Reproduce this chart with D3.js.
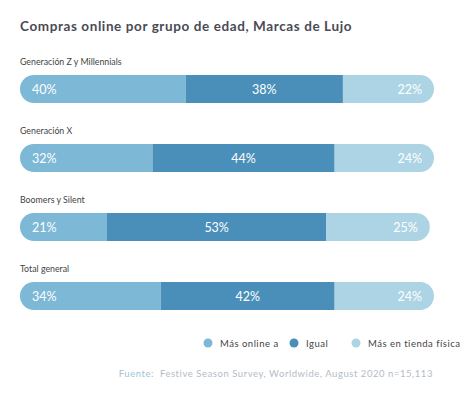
<!DOCTYPE html>
<html>
<head>
<meta charset="utf-8">
<script src="https://cdn.jsdelivr.net/npm/d3@7"></script>
<style>
  body { margin: 0; background: #fff; }
  text { font-family: Lato, "Open Sans", sans-serif; }
</style>
</head>
<body>
<svg id="chart" width="473" height="398"></svg>
<script>
// chart data
const groups = ["Generación Z y Millennials", "Generación X", "Boomers y Silent", "Total general"];
const seriesNames = ["Más online a", "Igual", "Más en tienda física"];
const masOnline = [40, 32, 21, 34];
const igual = [38, 44, 53, 42];
const masTienda = [22, 24, 25, 24];
const colors = ["#7db8d6", "#4a8fba", "#acd4e4"];

const svg = d3.select("#chart");

// title
svg.append("text")
    .attr("x", 20)
    .attr("y", 31)
    .attr("font-size", 13.5)
    .attr("font-weight", "bold")
    .attr("letter-spacing", 0.6)
    .attr("fill", "#4a4a55")
    .text("Compras online por grupo de edad, Marcas de Lujo");

const x = d3.scaleLinear().domain([0, 100]).range([20, 434]);
const y = d3.scaleBand().domain(groups).range([61, 337]).paddingInner(0).paddingOuter(0);
const barTop = 14, barH = 28;

const rows = groups.map((g, i) => ({
    group: g,
    values: [masOnline[i], igual[i], masTienda[i]]
}));

const row = svg.selectAll(".row")
    .data(rows)
    .enter()
    .append("g")
    .attr("class", "row")
    .attr("transform", d => `translate(0,${y(d.group)})`);

// group label
row.append("text")
    .attr("x", 20)
    .attr("y", 4)
    .attr("font-size", 8.8)
    .attr("fill", "#444")
    .text(d => d.group);

// rounded clip per row
row.append("clipPath")
    .attr("id", (d, i) => "clip" + i)
    .append("rect")
    .attr("x", x(0))
    .attr("y", barTop)
    .attr("width", d => x(d3.sum(d.values)) - x(0))
    .attr("height", barH)
    .attr("rx", barH / 2);

const seg = row.append("g")
    .attr("clip-path", (d, i) => `url(#clip${i})`)
    .selectAll("g")
    .data(d => {
        let acc = 0;
        return d.values.map((v, k) => {
            const s = { k: k, v: v, x0: acc, x1: acc + v };
            acc += v;
            return s;
        });
    })
    .enter()
    .append("g");

seg.append("rect")
    .attr("x", d => x(d.x0))
    .attr("y", barTop)
    .attr("width", d => x(d.x1) - x(d.x0))
    .attr("height", barH)
    .attr("fill", d => colors[d.k]);

// value labels: left, center, right
seg.append("text")
    .attr("x", d => d.k === 0 ? x(d.x0) + 12 : d.k === 1 ? (x(d.x0) + x(d.x1)) / 2 : x(d.x1) - 12)
    .attr("y", barTop + barH / 2 + 4.5)
    .attr("text-anchor", d => d.k === 0 ? "start" : d.k === 1 ? "middle" : "end")
    .attr("font-size", 12.5)
    .attr("fill", "#fff")
    .text(d => d.v + "%");

// legend
const legendX = [208, 294, 356];
const legend = svg.selectAll(".legend")
    .data(seriesNames)
    .enter()
    .append("g")
    .attr("class", "legend")
    .attr("transform", (d, i) => `translate(${legendX[i]},343)`);

legend.append("circle")
    .attr("r", 4.5)
    .attr("fill", (d, i) => colors[i]);

legend.append("text")
    .attr("x", 12)
    .attr("y", 3.5)
    .attr("font-size", 9.5)
    .attr("letter-spacing", 0.5)
    .attr("fill", "#444")
    .text(d => d);

// source
svg.append("text")
    .attr("x", 433)
    .attr("y", 377)
    .attr("text-anchor", "end")
    .attr("font-size", 9.5)
    .attr("letter-spacing", 0.55)
    .attr("fill", "#b3bcc6")
    .html('<tspan fill="#9fc3d8">Fuente:</tspan>&#160;&#160;Festive Season Survey, Worldwide, August 2020 n=15,113');
</script>
</body>
</html>
